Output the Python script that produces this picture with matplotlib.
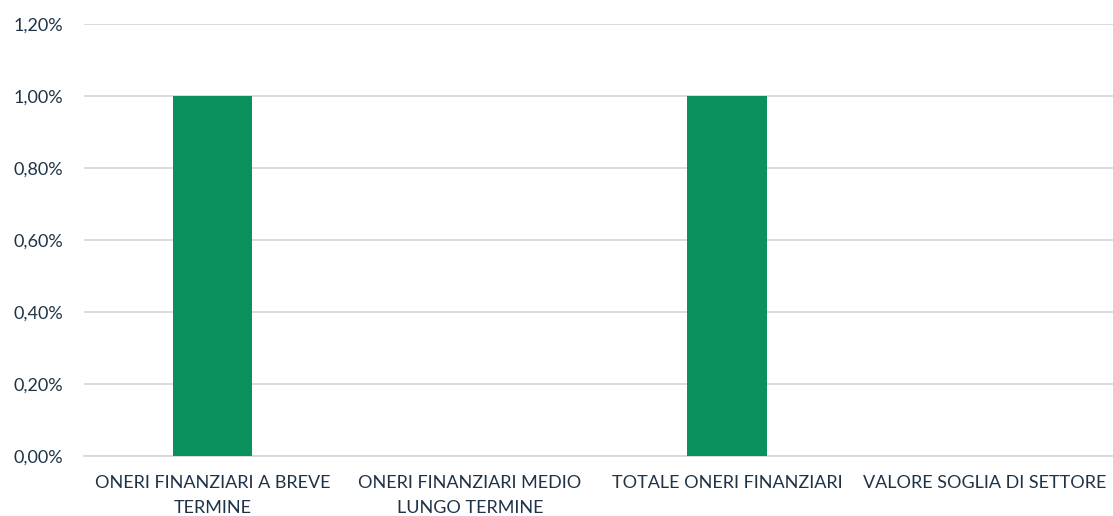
import matplotlib
matplotlib.use("Agg")
import matplotlib.pyplot as plt
from matplotlib.ticker import FuncFormatter, MultipleLocator

categories = ["ONERI FINANZIARI A BREVE\nTERMINE", "ONERI FINANZIARI MEDIO\nLUNGO TERMINE",
              "TOTALE ONERI FINANZIARI", "VALORE SOGLIA DI SETTORE"]
values = [1.00, 0.0, 1.00, 0.0]  # percent

plt.rcParams['font.family'] = ['Lato', 'DejaVu Sans']
text_color = "#1F3347"

fig = plt.figure(figsize=(11.13, 5.16), dpi=100)
ax = fig.add_axes([84/1113, 1-456/516, 1-84/1113, (456-24)/516])

x = list(range(len(categories)))
ax.bar(x, values, width=0.31, color="#0A915D", zorder=3)
ax.set_xlim(-0.5, len(categories)-0.5)
ax.set_ylim(0, 1.2)
ax.yaxis.set_major_locator(MultipleLocator(0.2))
ax.yaxis.set_major_formatter(FuncFormatter(lambda v, p: f"{v:.2f}%".replace(".", ",")))
ax.grid(axis="y", color="#D9D9D9", linewidth=1.3, zorder=0)
ax.set_axisbelow(True)
for s in ["top", "right", "left"]:
    ax.spines[s].set_visible(False)
ax.spines["bottom"].set_color("#D9D9D9")
ax.spines["bottom"].set_linewidth(1.3)
ax.set_xticks(x)
ax.set_xticklabels(categories, fontsize=13, color=text_color, linespacing=1.65)
ax.tick_params(axis="x", length=0, pad=14)
ax.tick_params(axis="y", length=0, pad=15, labelsize=13, labelcolor=text_color)

fig.savefig("out.png", dpi=100)
